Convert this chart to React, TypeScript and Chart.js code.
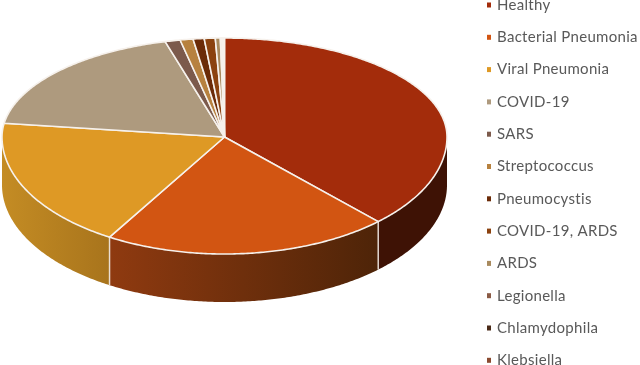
import React, { useEffect, useRef } from "react";
import { Chart, registerables } from "chart.js";

Chart.register(...registerables);

const categories = ["Healthy", "Bacterial Pneumonia", "Viral Pneumonia", "COVID-19", "SARS", "Streptococcus", "Pneumocystis", "COVID-19, ARDS", "ARDS", "Legionella", "Chlamydophila", "Klebsiella"];
const values = [37.9, 20.8, 18.6, 18.5, 1.1, 0.94, 0.8, 0.8, 0.36, 0.1, 0.1, 0.1];
const colors = ["#A32C0B", "#D25512", "#DE9925", "#AE9A7E", "#7C5A4C", "#B7813F", "#6B2B08", "#8B420F", "#A88A5E", "#8A5A45", "#4A2A18", "#8A4A30"];
const sideStart = ["#3E1205", "#8F3A10", "#C48C24", "#8A7A60", "#5A4036", "#8A6030", "#4A1E06", "#62300B", "#806A48", "#604030", "#301A0E", "#603420"];
const sideEnd = ["#3E1205", "#4E2408", "#A8741C", "#8A7A60", "#5A4036", "#8A6030", "#4A1E06", "#62300B", "#806A48", "#604030", "#301A0E", "#603420"];

const legendMarkers = { x: 487, w: 4, h: 5, textX: 497, firstY: 5, step: 32.3, font: "15px Lato", spacing: "0.3px", color: "#595959" };
const geo = { cx: 224.5, cy: 137, rx: 222.5, up: 99, down: 117, depth: 48 };

function pt(a: number, dy = 0): [number, number] {
  // a: Chart.js arc angle; -PI/2 is the top of the pie
  const s = Math.sin(a);
  return [geo.cx + geo.rx * Math.cos(a), geo.cy + s * (s > 0 ? geo.down : geo.up) + dy];
}

function arcPoints(a0: number, a1: number, dy = 0) {
  const n = Math.max(2, Math.ceil((a1 - a0) / 0.01));
  const out: [number, number][] = [];
  for (let i = 0; i <= n; i++) out.push(pt(a0 + ((a1 - a0) * i) / n, dy));
  return out;
}

const pie3d = {
  id: "pie3d",
  beforeDatasetDraw(chart: any) {
    const ctx = chart.ctx;
    const arcs = chart.getDatasetMeta(0).data;
    ctx.save();
    ctx.lineJoin = "round";
    // outer wall, front half only
    arcs.forEach((el: any, i: number) => {
      const a0 = Math.max(el.startAngle, 0);
      const a1 = Math.min(el.endAngle, Math.PI);
      if (a1 <= a0) return;
      const top = arcPoints(a0, a1);
      const bottom = arcPoints(a0, a1, geo.depth).reverse();
      ctx.beginPath();
      [...top, ...bottom].forEach(([x, y], k) => (k ? ctx.lineTo(x, y) : ctx.moveTo(x, y)));
      ctx.closePath();
      const g = ctx.createLinearGradient(top[0][0], 0, top[top.length - 1][0], 0);
      g.addColorStop(0, sideEnd[i]);
      g.addColorStop(1, sideStart[i]);
      ctx.fillStyle = g;
      ctx.fill();
      // seam at the start of the slice
      if (el.startAngle > 0 && el.startAngle < Math.PI) {
        const [x, y] = pt(el.startAngle);
        ctx.beginPath();
        ctx.moveTo(x, y);
        ctx.lineTo(x, y + geo.depth);
        ctx.strokeStyle = "rgba(240,232,225,0.9)";
        ctx.lineWidth = 1.5;
        ctx.stroke();
      }
    });
    // top face
    arcs.forEach((el: any, i: number) => {
      const p = arcPoints(el.startAngle, el.endAngle);
      ctx.beginPath();
      ctx.moveTo(geo.cx, geo.cy);
      p.forEach(([x, y]) => ctx.lineTo(x, y));
      ctx.closePath();
      ctx.fillStyle = colors[i];
      ctx.fill();
      ctx.strokeStyle = "#F6F1EC";
      ctx.lineWidth = 1.6;
      ctx.stroke();
    });
    ctx.restore();
    return false;
  },
  afterDraw(chart: any) {
    const ctx = chart.ctx;
    const m = legendMarkers;
    ctx.save();
    ctx.font = m.font;
    ctx.letterSpacing = m.spacing;
    ctx.textBaseline = "middle";
    ctx.textAlign = "left";
    chart.data.labels.forEach((label: string, i: number) => {
      const y = m.firstY + m.step * i;
      ctx.fillStyle = colors[i];
      ctx.fillRect(m.x, y - m.h / 2, m.w, m.h);
      ctx.fillStyle = m.color;
      ctx.fillText(label, m.textX, y);
    });
    ctx.restore();
  },
};

export default function App() {
  const ref = useRef<HTMLCanvasElement>(null);
  useEffect(() => {
    document.body.style.margin = "0";
    const chart = new Chart(ref.current!, {
      type: "pie",
      data: { labels: categories, datasets: [{ data: values, backgroundColor: colors }] },
      options: {
        responsive: false,
        animation: false,
        plugins: { legend: { display: false }, tooltip: { enabled: false } },
      },
      plugins: [pie3d],
    } as any);
    return () => chart.destroy();
  }, []);
  return <canvas ref={ref} width={640} height={365} style={{ display: "block", filter: "blur(0.5px)" }} />;
}
